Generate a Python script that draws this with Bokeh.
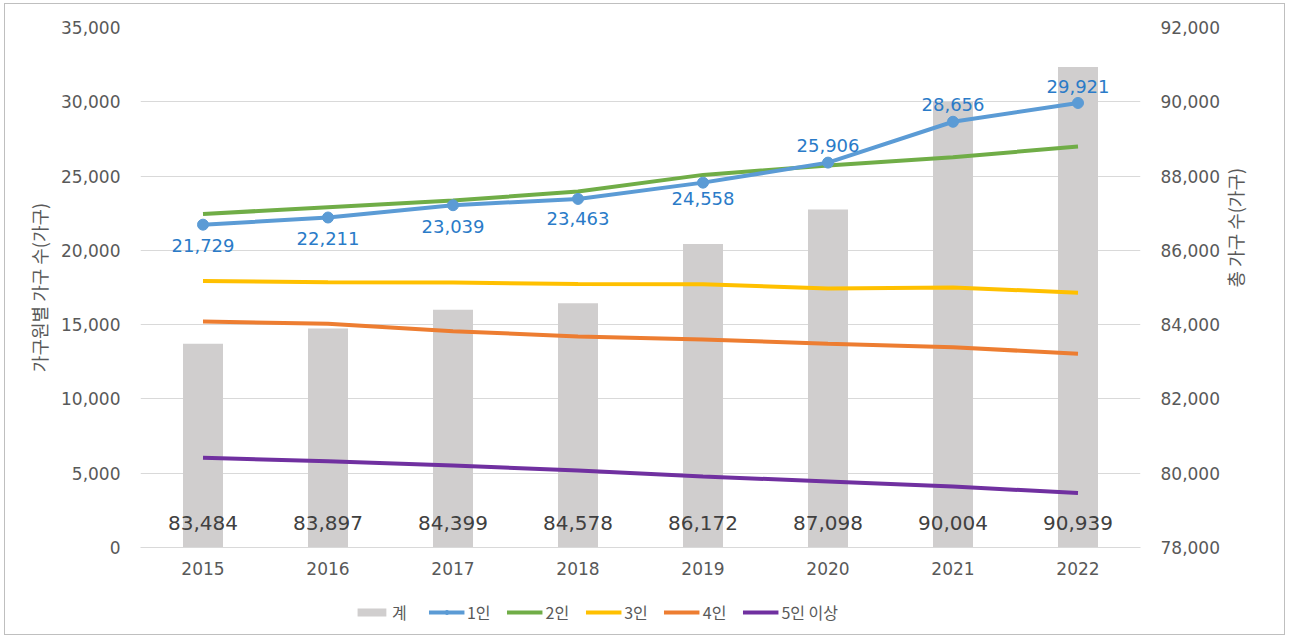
import math
from bokeh.plotting import figure
from bokeh.layouts import column
from bokeh.models import (Range1d, LinearAxis, FixedTicker, NumeralTickFormatter,
                          Legend, LegendItem, ColumnDataSource)
from bokeh.core.properties import value
from bokeh.embed import file_html
from bokeh.resources import INLINE

years = ["2015", "2016", "2017", "2018", "2019", "2020", "2021", "2022"]
total = [83484, 83897, 84399, 84578, 86172, 87098, 90004, 90939]
one = [21729, 22211, 23039, 23463, 24558, 25906, 28656, 29921]
two = [22450, 22900, 23350, 23960, 25080, 25710, 26270, 26990]
three = [17930, 17860, 17840, 17730, 17720, 17430, 17500, 17150]
four = [15210, 15060, 14560, 14200, 14000, 13710, 13480, 13040]
five = [6040, 5810, 5520, 5180, 4780, 4440, 4100, 3670]
series_names = ["계", "1인", "2인", "3인", "4인", "5인 이상"]

left_ticks = [0, 5000, 10000, 15000, 20000, 25000, 30000, 35000]
right_ticks = [78000, 80000, 82000, 84000, 86000, 88000, 90000, 92000]

FONT = "Noto Sans CJK KR"
NUM_FONT = "DejaVu Sans"
GRAY_TXT = "#595959"
C_BAR, C1, C2, C3, C4, C5 = "#d0cece", "#5b9bd5", "#70ad47", "#ffc000", "#ed7d31", "#7030a0"

p = figure(x_range=years, y_range=Range1d(0, 35000),
           frame_width=1000, frame_height=520,
           min_border_left=135, min_border_right=144,
           min_border_top=23, min_border_bottom=43,
           output_backend="svg", toolbar_location=None)
p.extra_y_ranges = {"total": Range1d(78000, 92000)}
p.outline_line_color = None
p.background_fill_color = "white"
p.border_fill_color = "white"

# grid
p.xgrid.grid_line_color = None
p.ygrid.grid_line_color = "#d9d9d9"
p.ygrid.grid_line_width = 1
p.yaxis.ticker = FixedTicker(ticks=left_ticks)

# bars (total, right axis)
src_bar = ColumnDataSource(dict(x=years, top=total))
p.vbar(x="x", top="top", bottom=78000, width=0.32, source=src_bar,
       y_range_name="total", fill_color=C_BAR, line_color=None)

# total labels
p.text(x=years, y=[78000] * len(years), text=[f"{v:,}" for v in total],
       y_range_name="total", y_offset=-25, text_align="center",
       text_baseline="middle", text_font=value(NUM_FONT), text_font_size="20px",
       text_color="#404040")

# lines
p.line(years, two, line_color=C2, line_width=4)
p.line(years, three, line_color=C3, line_width=4)
p.line(years, four, line_color=C4, line_width=4)
p.line(years, five, line_color=C5, line_width=4)
p.line(years, one, line_color=C1, line_width=4)
p.scatter(years, one, size=11, fill_color=C1, line_color=C1)

# 1인 labels
label_offsets = [21, 21, 21, 20, 16, -17, -17, -16]
p.text(x=years, y=one, text=[f"{v:,}" for v in one], y_offset=label_offsets,
       text_align="center", text_baseline="middle", text_font=value(NUM_FONT),
       text_font_size="18px", text_color="#2a7bc8")

# axes
p.yaxis.formatter = NumeralTickFormatter(format="0,0")
p.yaxis.axis_label = "가구원별 가구 수(가구)"

right = LinearAxis(y_range_name="total", ticker=FixedTicker(ticks=right_ticks),
                   formatter=NumeralTickFormatter(format="0,0"),
                   axis_label="총 가구 수(가구)")
p.add_layout(right, "right")
right.axis_label_orientation = math.pi / 2

for ax in [p.yaxis[0], right]:
    ax.axis_line_color = None
    ax.major_tick_line_color = None
    ax.minor_tick_line_color = None
    ax.major_label_text_font = NUM_FONT
    ax.major_label_text_font_size = "17px"
    ax.major_label_text_color = GRAY_TXT
    ax.major_label_standoff = 14
    ax.axis_label_text_font = FONT
    ax.axis_label_text_font_size = "18px"
    ax.axis_label_text_font_style = "normal"
    ax.axis_label_text_color = GRAY_TXT
    ax.axis_label_standoff = 12
p.yaxis[0].axis_label_standoff = 6

p.xaxis.axis_line_color = "#d9d9d9"
p.xaxis.axis_line_width = 1
p.xaxis.major_tick_line_color = None
p.xaxis.minor_tick_line_color = None
p.xaxis.major_label_text_font = NUM_FONT
p.xaxis.major_label_text_font_size = "17px"
p.xaxis.major_label_text_color = GRAY_TXT
p.xaxis.major_label_standoff = 8

# legend strip below the chart (sample renderers sit outside the strip's view)
lf = figure(width=1190, height=44, x_range=Range1d(0, 1), y_range=Range1d(0, 1),
            output_backend="svg", toolbar_location=None, min_border=0)
lf.axis.visible = False
lf.grid.grid_line_color = None
lf.outline_line_color = None
lf.border_fill_color = "white"
off = [-5, -4]
g0 = lf.vbar(x=off, top=off, width=0.3, fill_color=C_BAR, line_color=None)
g1 = lf.line(x=off, y=off, line_color=C1, line_width=4)
g1m = lf.scatter(x=off, y=off, size=9, fill_color=C1, line_color=C1)
g2 = lf.line(x=off, y=off, line_color=C2, line_width=4)
g3 = lf.line(x=off, y=off, line_color=C3, line_width=4)
g4 = lf.line(x=off, y=off, line_color=C4, line_width=4)
g5 = lf.line(x=off, y=off, line_color=C5, line_width=4)
legend = Legend(items=[
    LegendItem(label=series_names[0], renderers=[g0]),
    LegendItem(label=series_names[1], renderers=[g1, g1m]),
    LegendItem(label=series_names[2], renderers=[g2]),
    LegendItem(label=series_names[3], renderers=[g3]),
    LegendItem(label=series_names[4], renderers=[g4]),
    LegendItem(label=series_names[5], renderers=[g5]),
], orientation="horizontal", location="center")
legend.border_line_color = None
legend.background_fill_alpha = 0
legend.label_text_font = FONT
legend.label_text_font_size = "16px"
legend.label_text_color = GRAY_TXT
legend.glyph_width = 36
legend.glyph_height = 10
legend.label_height = 10
legend.spacing = 16
legend.label_standoff = 3
legend.padding = 0
legend.margin = 0
lf.add_layout(legend)

layout = column(p, lf, spacing=0)
layout.styles = {"border": "1px solid #bfbfbf", "margin-left": "4px",
                 "margin-top": "3px", "background": "white"}

open("out.html", "w").write(file_html(layout, INLINE))
